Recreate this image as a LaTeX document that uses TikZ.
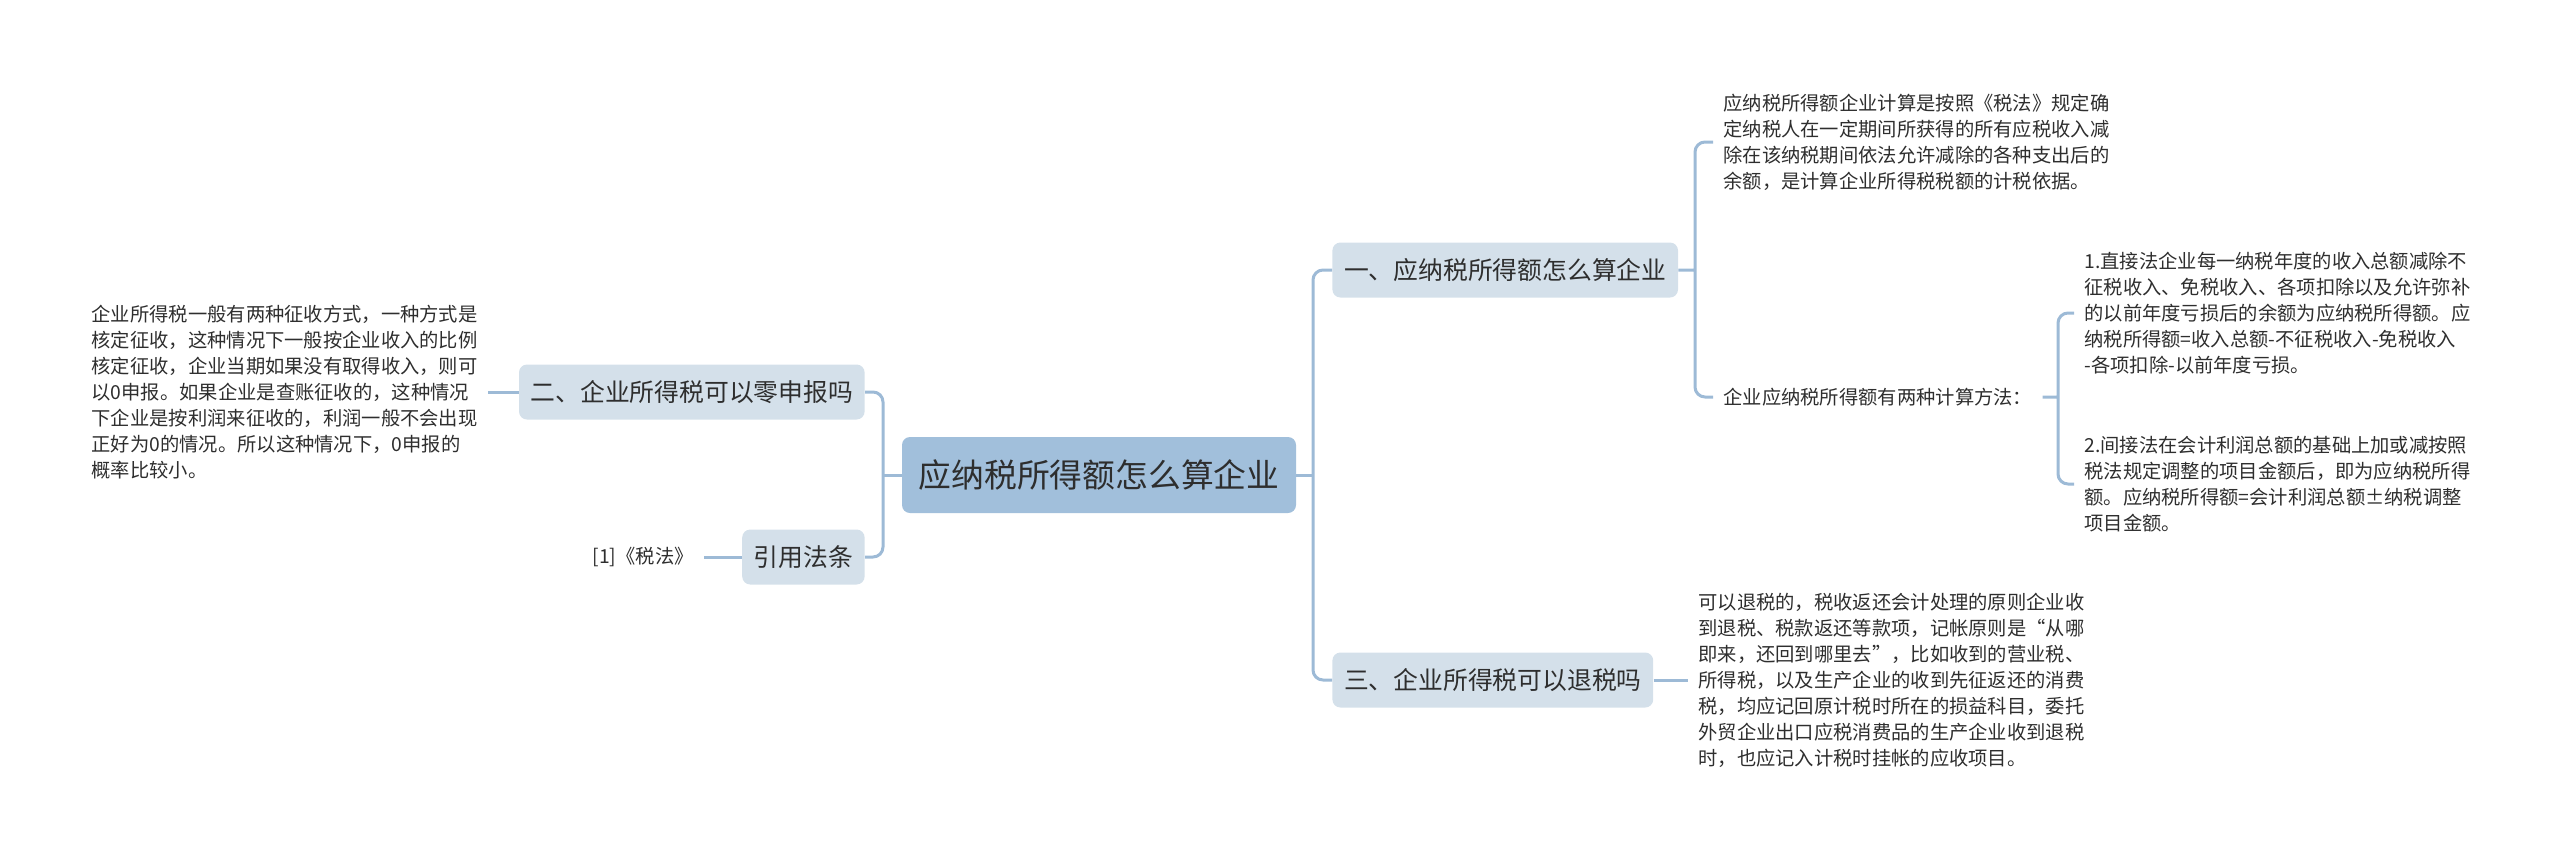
\documentclass[tikz,border=0pt]{standalone}
\usepackage{fontspec}
\newfontfamily\cjk{Noto Sans CJK SC}
\definecolor{linkblue}{HTML}{9DBAD6}
\definecolor{rootfill}{HTML}{A1BFDB}
\definecolor{subfill}{HTML}{D4E0EA}
\definecolor{inkgray}{HTML}{2E2E2E}
\tikzset{
  mainbox/.style={fill=rootfill,rounded corners=4pt,inner xsep=8.3pt,minimum height=38pt,text=inkgray,font=\cjk\fontsize{16.4pt}{19pt}\selectfont},
  subbox/.style={fill=subfill,rounded corners=4pt,inner xsep=5.8pt,minimum height=27.5pt,text=inkgray,font=\cjk\fontsize{12.4pt}{15pt}\selectfont},
  leaftext/.style={align=left,inner xsep=5pt,inner ysep=0pt,text=inkgray,font=\cjk\fontsize{9.65pt}{13pt}\selectfont},
  link/.style={draw=linkblue,line width=1.5pt,rounded corners=5pt}
}

\begin{document}
\begin{tikzpicture}[x=.5pt,y=-.5pt]
\useasboundingbox (0,0) rectangle (2560,858);
\node[mainbox] (root) at (1099,475) {应纳税所得额怎么算企业};
\node[subbox,anchor=west] (one) at (1332,270) {一、应纳税所得额怎么算企业};
\node[subbox,anchor=west] (three) at (1332,680) {三、企业所得税可以退税吗};
\node[subbox,anchor=east] (two) at (865,392) {二、企业所得税可以零申报吗};
\node[subbox,anchor=east] (cite) at (865,557) {引用法条};
\node[leaftext,anchor=west] (def) at (1713,142) {应纳税所得额企业计算是按照《税法》规定确\\定纳税人在一定期间所获得的所有应税收入减\\除在该纳税期间依法允许减除的各种支出后的\\余额，是计算企业所得税税额的计税依据。};
\node[leaftext,anchor=west] (ways) at (1713,397) {企业应纳税所得额有两种计算方法：};
\node[leaftext,anchor=west] (direct) at (2074,313) {1.直接法企业每一纳税年度的收入总额减除不\\征税收入、免税收入、各项扣除以及允许弥补\\的以前年度亏损后的余额为应纳税所得额。应\\纳税所得额=收入总额-不征税收入-免税收入\\-各项扣除-以前年度亏损。};
\node[leaftext,anchor=west] (indirect) at (2074,484) {2.间接法在会计利润总额的基础上加或减按照\\税法规定调整的项目金额后，即为应纳税所得\\额。应纳税所得额=会计利润总额±纳税调整\\项目金额。};
\node[leaftext,anchor=west] (refund) at (1688,680) {可以退税的，税收返还会计处理的原则企业收\\到退税、税款返还等款项，记帐原则是“从哪\\即来，还回到哪里去”，比如收到的营业税、\\所得税，以及生产企业的收到先征返还的消费\\税，均应记回原计税时所在的损益科目，委托\\外贸企业出口应税消费品的生产企业收到退税\\时，也应记入计税时挂帐的应收项目。};
\node[leaftext,anchor=east] (zero) at (488,392) {企业所得税一般有两种征收方式，一种方式是\\核定征收，这种情况下一般按企业收入的比例\\核定征收，企业当期如果没有取得收入，则可\\以0申报。如果企业是查账征收的，这种情况\\下企业是按利润来征收的，利润一般不会出现\\正好为0的情况。所以这种情况下，0申报的\\概率比较小。};
\node[leaftext,anchor=east] (law) at (704,557) {[1]《税法》};
\coordinate (jr) at (1313,475); \coordinate (jl) at (883,475);
\coordinate (j1) at (1695,270); \coordinate (j2) at (2058,397);
\draw[link] (root.east) -- (jr) (root.west) -- (jl);
\draw[link] (jr) |- (one.west) (jr) |- (three.west);
\draw[link] (jl) |- (two.east) (jl) |- (cite.east);
\draw[link] (one.east) -- (j1) (j1) |- (def.west) (j1) |- (ways.west);
\draw[link] (ways.east) -- (j2) (j2) |- (direct.west) (j2) |- (indirect.west);
\draw[link] (three.east) -- (refund.west);
\draw[link] (two.west) -- (zero.east);
\draw[link] (cite.west) -- (law.east);
\end{tikzpicture}
\end{document}
